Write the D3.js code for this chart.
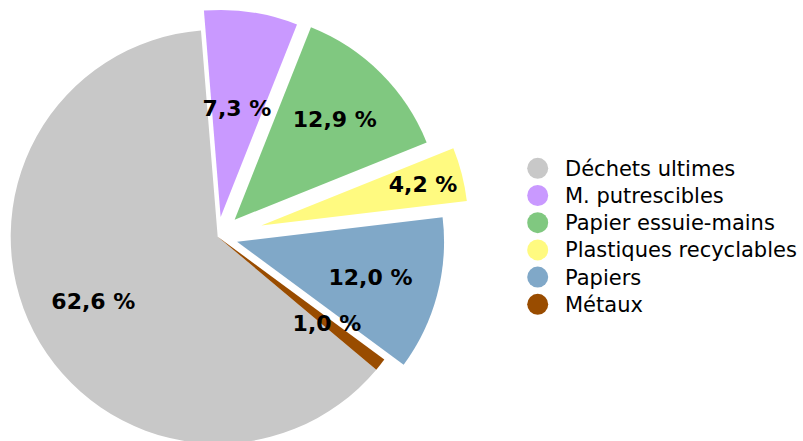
<!DOCTYPE html>
<html>
<head>
<meta charset="utf-8">
<script src="https://cdn.jsdelivr.net/npm/d3@7"></script>
<style>
  html, body { margin: 0; padding: 0; background: #fff; }
  svg { display: block; }
</style>
</head>
<body>
<svg id="chart" width="803" height="441"></svg>
<script>
// Waste composition (percent of total mass)
const categories = ["Déchets ultimes", "M. putrescibles", "Papier essuie-mains",
                    "Plastiques recyclables", "Papiers", "Métaux"];
const values = [62.6, 7.3, 12.9, 4.2, 12.0, 1.0];
const colors = ["#c8c8c8", "#c999ff", "#80c880", "#fffa80", "#80a8c8", "#994c00"];

// Layout
const cx = 217.7, cy = 236.7, radius = 207;
const startAngle = 130 * Math.PI / 180;          // first slice begins lower right
const explode = [0, 20, 24, 45, 20, 0];          // pull-out distance of each slice
const labelDist = [140, 110, 142, 167, 138, 139]; // label distance from slice apex
const fmt = v => d3.format(".1f")(v).replace(".", ",") + " %";

const svg = d3.select("#chart");

const pie = d3.pie()
  .sort(null)
  .value(d => d)
  .startAngle(startAngle)
  .endAngle(startAngle + 2 * Math.PI);

const arc = d3.arc().innerRadius(0).outerRadius(radius);
const arcs = pie(values);

const g = svg.append("g").attr("transform", `translate(${cx},${cy})`);

function offset(d, dist) {
  const a = (d.startAngle + d.endAngle) / 2;
  return [Math.sin(a) * dist, -Math.cos(a) * dist];
}

g.selectAll("path.slice")
  .data(arcs)
  .join("path")
  .attr("class", "slice")
  .attr("d", arc)
  .attr("fill", (d, i) => colors[i])
  .attr("transform", (d, i) => {
    const [dx, dy] = offset(d, explode[i]);
    return `translate(${dx},${dy})`;
  });

g.selectAll("text.value")
  .data(arcs)
  .join("text")
  .attr("class", "value")
  .attr("x", (d, i) => offset(d, explode[i] + labelDist[i])[0])
  .attr("y", (d, i) => offset(d, explode[i] + labelDist[i])[1])
  .attr("dy", "0.36em")
  .attr("text-anchor", "middle")
  .attr("font-family", "'DejaVu Sans', Verdana, sans-serif")
  .attr("font-weight", "bold")
  .attr("font-size", 22)
  .attr("fill", "#000")
  .text(d => fmt(d.data));

// Legend
const legend = svg.append("g").attr("transform", "translate(537.7,168.3)");
const rows = legend.selectAll("g")
  .data(categories)
  .join("g")
  .attr("transform", (d, i) => `translate(0,${i * 27.2})`);

rows.append("circle")
  .attr("r", 10.5)
  .attr("fill", (d, i) => colors[i]);

rows.append("text")
  .attr("x", 27.3)
  .attr("dy", "0.36em")
  .attr("font-family", "'DejaVu Sans', Verdana, sans-serif")
  .attr("font-size", 21)
  .attr("fill", "#000")
  .text(d => d);
</script>
</body>
</html>
